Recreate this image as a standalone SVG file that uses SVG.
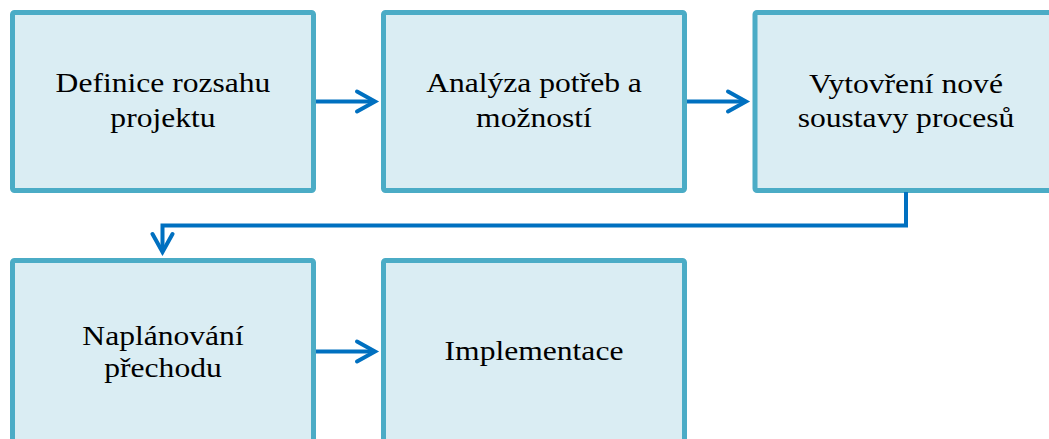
<svg xmlns="http://www.w3.org/2000/svg" width="1049" height="439" viewBox="0 0 1049 439">
<style>
.box{fill:#DAEDF3;stroke:#4BACC6;stroke-width:5}
.lbl{font-family:"Liberation Serif","Times New Roman",serif;font-size:27px;fill:#000;text-anchor:middle}
.con{fill:none;stroke:#0070C0;stroke-width:4}
.head{fill:none;stroke:#0070C0;stroke-width:4;stroke-linecap:round;stroke-linejoin:miter}
</style>
<rect width="1049" height="439" fill="#fff"/>
<g id="n1"><rect class="box" x="12.5" y="12.5" width="301" height="178" rx="2"/>
<g transform="translate(163 0) scale(1.17 1)"><text class="lbl" x="0" y="92">Definice rozsahu</text><text class="lbl" x="0" y="127">projektu</text></g></g>
<g id="n2"><rect class="box" x="383.5" y="12.5" width="301" height="178" rx="2"/>
<g transform="translate(534 0) scale(1.17 1)"><text class="lbl" x="0" y="92">Analýza potřeb a</text><text class="lbl" x="0" y="127">možností</text></g></g>
<g id="n3"><rect class="box" x="755" y="12.5" width="301" height="178" rx="2"/>
<g transform="translate(906 0) scale(1.17 1)"><text class="lbl" x="0" y="93">Vytovření nové</text><text class="lbl" x="0" y="127">soustavy procesů</text></g></g>
<g id="n4"><rect class="box" x="12.5" y="260.5" width="301" height="200" rx="2"/>
<g transform="translate(163 0) scale(1.17 1)"><text class="lbl" x="0" y="345">Naplánování</text><text class="lbl" x="0" y="377">přechodu</text></g></g>
<g id="n5"><rect class="box" x="383.5" y="260.5" width="301" height="200" rx="2"/>
<g transform="translate(534 0) scale(1.17 1)"><text class="lbl" x="0" y="360">Implementace</text></g></g>
<g id="connectors">
<path class="con" d="M316 101.5H374"/><path class="head" d="M357 91.5L375 101.5L357 111.5"/>
<path class="con" d="M687 101.5H745"/><path class="head" d="M728 91.5L746 101.5L728 111.5"/>
<path class="con" d="M906 192V225.5H162.5V251"/><path class="head" d="M152.5 234L162.5 252L172.5 234"/>
<path class="con" d="M316 351.5H374"/><path class="head" d="M357 341.5L375 351.5L357 361.5"/>
</g>
</svg>
